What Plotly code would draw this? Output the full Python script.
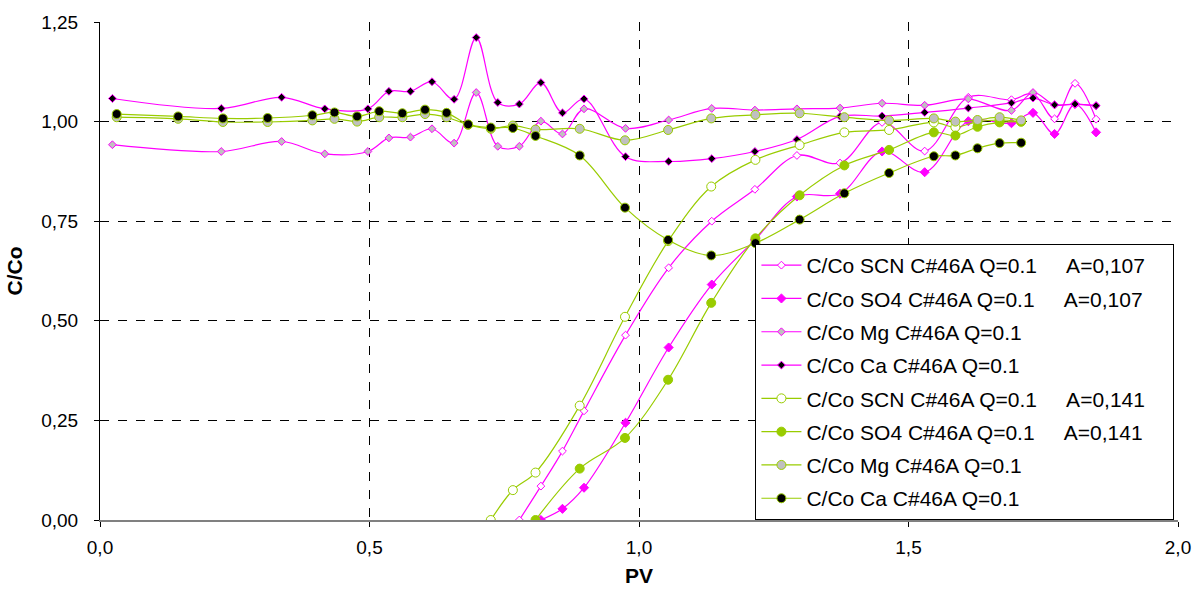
import plotly.graph_objects as go

# ---------------- data ----------------
# magenta series (A=0,107) x positions
pv_m = [0.023, 0.225, 0.337, 0.417, 0.497, 0.536, 0.576, 0.616, 0.657, 0.698,
        0.738, 0.778, 0.818, 0.858, 0.898, 0.975, 1.055, 1.135, 1.215, 1.293,
        1.373, 1.451, 1.530, 1.611, 1.691, 1.731, 1.771, 1.809, 1.848]
mg_m = [0.942, 0.925, 0.950, 0.919, 0.925, 0.959, 0.961, 0.982, 0.946, 1.073,
        0.938, 0.938, 1.001, 0.969, 1.032, 0.983, 1.004, 1.033, 1.029, 1.032,
        1.034, 1.046, 1.041, 1.057, 1.028, 1.073, 1.042, 1.044, 1.040]
ca_m = [1.058, 1.033, 1.061, 1.032, 1.032, 1.076, 1.076, 1.100, 1.056, 1.211,
        1.048, 1.044, 1.098, 1.022, 1.057, 0.912, 0.900, 0.907, 0.925, 0.955,
        1.013, 1.014, 1.023, 1.034, 1.047, 1.059, 1.042, 1.044, 1.040]
pv_m_scn = [0.778, 0.818, 0.858, 0.898, 0.975, 1.055, 1.135, 1.215, 1.293, 1.373,
            1.451, 1.530, 1.611, 1.691, 1.731, 1.771, 1.809, 1.848]
scn_m = [0.000, 0.085, 0.173, 0.274, 0.464, 0.633, 0.750, 0.830, 0.915, 0.896,
         0.998, 0.926, 1.061, 1.055, 1.070, 1.007, 1.096, 1.006]
pv_m_so4 = [0.818, 0.858, 0.898, 0.975, 1.055, 1.135, 1.215, 1.293, 1.373, 1.451,
            1.530, 1.611, 1.691, 1.731, 1.771, 1.809, 1.848]
so4_m = [0.000, 0.028, 0.081, 0.244, 0.433, 0.591, 0.703, 0.812, 0.819, 0.925,
         0.873, 1.001, 0.996, 1.022, 0.969, 1.044, 0.973]

# green series (A=0,141) x positions
pv_g = [0.031, 0.145, 0.228, 0.311, 0.394, 0.435, 0.477, 0.518, 0.561, 0.603,
        0.643, 0.683, 0.725, 0.766, 0.808, 0.890, 0.974, 1.054, 1.134, 1.216,
        1.298, 1.381, 1.464, 1.547, 1.587, 1.628, 1.669, 1.709]
mg_g = [1.011, 1.007, 0.999, 0.999, 1.003, 1.007, 1.000, 1.011, 1.011, 1.019,
        1.011, 0.992, 0.982, 0.990, 0.980, 0.982, 0.953, 0.979, 1.008, 1.017,
        1.021, 1.011, 1.003, 1.008, 1.000, 1.004, 1.011, 1.003]
ca_g = [1.019, 1.013, 1.008, 1.009, 1.016, 1.023, 1.013, 1.026, 1.021, 1.030,
        1.022, 0.993, 0.985, 0.984, 0.964, 0.915, 0.784, 0.703, 0.664, 0.695,
        0.754, 0.820, 0.871, 0.913, 0.915, 0.933, 0.946, 0.947]
pv_g_scn = [0.725, 0.766, 0.808, 0.890, 0.974, 1.054, 1.134, 1.216, 1.298, 1.381,
            1.464, 1.547, 1.587, 1.628, 1.669, 1.709]
scn_g = [0.000, 0.075, 0.119, 0.287, 0.510, 0.700, 0.837, 0.904, 0.941, 0.973,
         0.979, 0.998, 0.986, 1.000, 1.004, 1.000]
pv_g_so4 = [0.808, 0.890, 0.974, 1.054, 1.134, 1.216, 1.298, 1.381, 1.464, 1.547,
            1.587, 1.628, 1.669, 1.709]
so4_g = [0.000, 0.129, 0.206, 0.352, 0.545, 0.707, 0.815, 0.890, 0.929, 0.973,
         0.965, 0.987, 0.998, 1.000]

SP = "\u00a0" * 5
TRAIL = "\u00a0" * 4
names = [
    "C/Co SCN C#46A Q=0.1" + SP + "A=0,107" + TRAIL,
    "C/Co SO4 C#46A Q=0.1" + SP + "A=0,107",
    "C/Co Mg C#46A Q=0.1",
    "C/Co Ca C#46A Q=0.1",
    "C/Co SCN C#46A Q=0.1" + SP + "A=0,141",
    "C/Co SO4 C#46A Q=0.1" + SP + "A=0,141",
    "C/Co Mg C#46A Q=0.1",
    "C/Co Ca C#46A Q=0.1",
]

MAG = "#FF00FF"
GRN = "#99CC00"
SIL = "#C0C0C0"

series = [
    (pv_m_scn, scn_m, MAG, "diamond", "white", 6),
    (pv_m_so4, so4_m, MAG, "diamond", MAG, 7),
    (pv_m, mg_m, MAG, "diamond", SIL, 6),
    (pv_m, ca_m, MAG, "diamond", "black", 6),
    (pv_g_scn, scn_g, GRN, "circle", "white", 9),
    (pv_g_so4, so4_g, GRN, "circle", GRN, 9),
    (pv_g, mg_g, GRN, "circle", SIL, 9),
    (pv_g, ca_g, GRN, "circle", "black", 9),
]

fig = go.Figure()
for i, (x, y, lc, sym, fc, sz) in enumerate(series):
    fig.add_trace(go.Scatter(
        x=x, y=y, name=names[i], mode="lines+markers",
        legendgroup=f"g{i}",
        line=dict(color=lc, width=1.2, shape="spline", smoothing=1.0),
        marker=dict(symbol=sym, size=sz, color=fc, line=dict(color=lc, width=1)),
    ))

FONT = "Liberation Sans, Arial, sans-serif"
fig.update_layout(
    width=1203, height=596,
    margin=dict(l=100, r=19, t=22, b=76),
    paper_bgcolor="white", plot_bgcolor="white",
    separators=",.",
    font=dict(family=FONT, size=19, color="black"),
    showlegend=True,
    legend=dict(
        x=0.608, y=0.0, xanchor="left", yanchor="bottom",
        bgcolor="white", bordercolor="black", borderwidth=1,
        font=dict(family=FONT, size=21, color="black"),
        tracegroupgap=3, itemwidth=40,
    ),
    xaxis=dict(
        range=[0, 2], dtick=0.5, tick0=0, tickformat=".1f",
        showgrid=True, gridcolor="black", griddash="dash", gridwidth=1,
        zeroline=False, showline=True, linecolor="#808080", linewidth=2,
        ticks="outside", ticklen=5, tickcolor="black",
        ticklabelstandoff=4,
        title=dict(text="<b>PV</b>", font=dict(size=21), standoff=12),
    ),
    yaxis=dict(
        range=[0, 1.25], dtick=0.25, tick0=0, tickformat=".2f",
        showgrid=True, gridcolor="black", griddash="dash", gridwidth=1,
        zeroline=False, showline=True, linecolor="black", linewidth=1,
        ticks="outside", ticklen=5, tickcolor="black",
        ticklabelstandoff=12,
        title=dict(text="<b>C/Co</b>", font=dict(size=21), standoff=12),
    ),
)

fig.write_html("out.html")
